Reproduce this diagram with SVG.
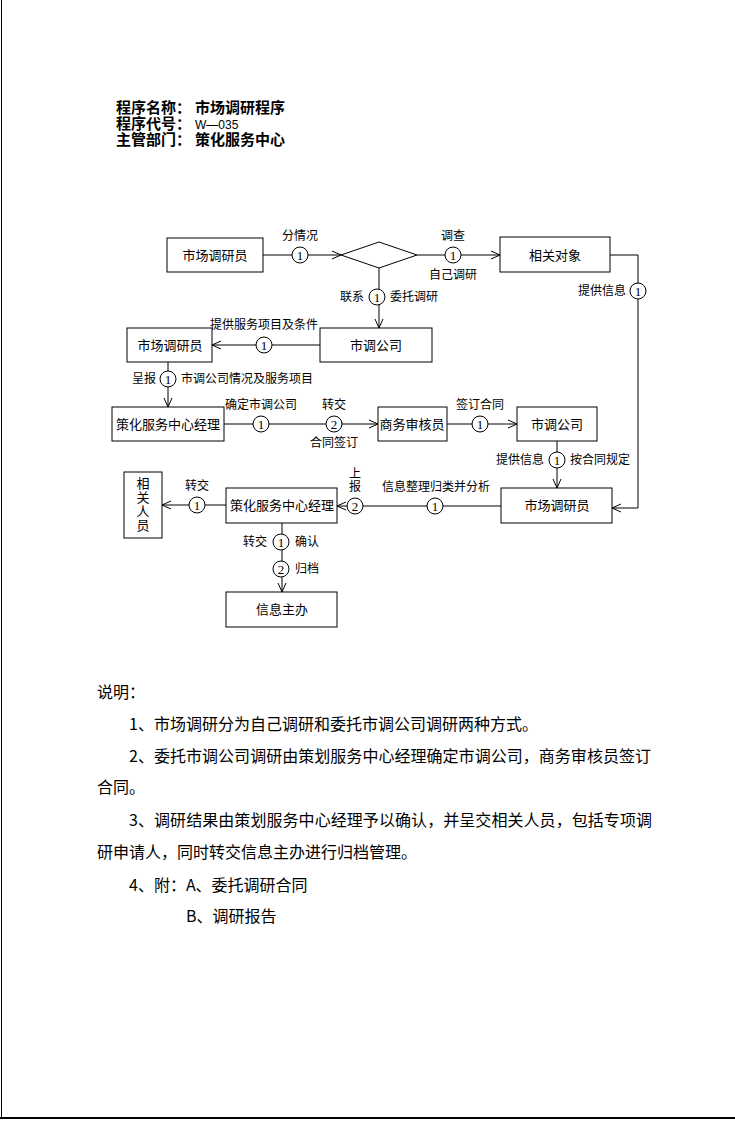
<svg xmlns="http://www.w3.org/2000/svg" width="735" height="1121" viewBox="0 0 735 1121">
<style>
.bx{fill:#fff;stroke:#000;stroke-width:1}
.ln{fill:none;stroke:#000;stroke-width:1}
.cc{fill:#fff;stroke:#000;stroke-width:1}
.bt{font-family:"Noto Sans CJK SC","Noto Sans CJK JP",sans-serif;font-size:13px;text-anchor:middle;fill:#000}
.lb{font-family:"Noto Sans CJK SC","Noto Sans CJK JP",sans-serif;font-size:12px;fill:#000}
.mid{text-anchor:middle}
.end{text-anchor:end}
.vt{writing-mode:vertical-rl;text-anchor:middle}
.num{font-family:"Liberation Serif",serif;font-size:13px;text-anchor:middle;fill:#000}
.hd{font-family:"Noto Sans CJK SC","Noto Sans CJK JP",sans-serif;font-size:15px;font-weight:bold;fill:#000}
.body{font-family:"Noto Sans CJK SC","Noto Sans CJK JP",sans-serif;font-size:16px;fill:#000}
</style>
<defs>
<marker id="ar" markerWidth="10" markerHeight="10" refX="9" refY="5" orient="auto" markerUnits="userSpaceOnUse">
<path d="M0,1 L9,5 L0,9" fill="none" stroke="#000" stroke-width="1"/>
</marker>
</defs>
<rect width="735" height="1121" fill="#fff"/>
<g id="page-border">
<line x1="1.5" y1="0" x2="1.5" y2="1119" class="ln"/>
<line x1="0" y1="1118" x2="735" y2="1118" stroke="#000" stroke-width="2"/>
</g>
<g id="header">
<text class="hd"><tspan x="116" y="113">程序名称：</tspan><tspan x="195" y="113">市场调研程序</tspan><tspan x="116" y="129">程序代号：</tspan><tspan x="195" y="129" font-family="Liberation Sans,sans-serif" font-size="12" font-weight="normal">W—035</tspan><tspan x="116" y="145">主管部门：</tspan><tspan x="195" y="145">策化服务中心</tspan></text>
</g>
<g id="connectors">
<line x1="263" y1="255" x2="341" y2="255" class="ln" marker-end="url(#ar)"/>
<line x1="417" y1="255" x2="500" y2="255" class="ln" marker-end="url(#ar)"/>
<line x1="379" y1="268" x2="379" y2="328" class="ln" marker-end="url(#ar)"/>
<line x1="320" y1="345" x2="212" y2="345" class="ln" marker-end="url(#ar)"/>
<line x1="168" y1="362" x2="168" y2="407" class="ln" marker-end="url(#ar)"/>
<line x1="224" y1="424" x2="378" y2="424" class="ln" marker-end="url(#ar)"/>
<line x1="447" y1="424" x2="517" y2="424" class="ln" marker-end="url(#ar)"/>
<line x1="557" y1="441" x2="557" y2="488" class="ln" marker-end="url(#ar)"/>
<polyline points="610,255 638,255 638,508 612,508" class="ln" marker-end="url(#ar)"/>
<line x1="501" y1="506" x2="337" y2="506" class="ln" marker-end="url(#ar)"/>
<line x1="226" y1="505" x2="162" y2="505" class="ln" marker-end="url(#ar)"/>
<line x1="282" y1="523" x2="282" y2="592" class="ln" marker-end="url(#ar)"/>
<g id="circles">
<circle cx="300" cy="255" r="8" class="cc"/><text x="300" y="260" class="num">1</text>
<circle cx="453" cy="255" r="8" class="cc"/><text x="453" y="260" class="num">1</text>
<circle cx="377" cy="297" r="8" class="cc"/><text x="377" y="302" class="num">1</text>
<circle cx="638" cy="291" r="8" class="cc"/><text x="638" y="296" class="num">1</text>
<circle cx="264" cy="345" r="8" class="cc"/><text x="264" y="350" class="num">1</text>
<circle cx="168" cy="379" r="8" class="cc"/><text x="168" y="384" class="num">1</text>
<circle cx="261" cy="424" r="8" class="cc"/><text x="261" y="429" class="num">1</text>
<circle cx="334" cy="424" r="8" class="cc"/><text x="334" y="429" class="num">2</text>
<circle cx="480" cy="424" r="8" class="cc"/><text x="480" y="429" class="num">1</text>
<circle cx="557" cy="460" r="8" class="cc"/><text x="557" y="465" class="num">1</text>
<circle cx="435" cy="506" r="8" class="cc"/><text x="435" y="511" class="num">1</text>
<circle cx="355" cy="506" r="8" class="cc"/><text x="355" y="511" class="num">2</text>
<circle cx="197" cy="505" r="8" class="cc"/><text x="197" y="510" class="num">1</text>
<circle cx="281" cy="542" r="8" class="cc"/><text x="281" y="547" class="num">1</text>
<circle cx="281" cy="569" r="8" class="cc"/><text x="281" y="574" class="num">2</text>
</g>
<g id="labels">
<text x="300" y="240" class="lb mid">分情况</text>
<text x="453" y="240" class="lb mid">调查</text>
<text x="453" y="279" class="lb mid">自己调研</text>
<text x="364" y="301" class="lb end">联系</text>
<text x="390" y="301" class="lb">委托调研</text>
<text x="626" y="295" class="lb end">提供信息</text>
<text x="264" y="329" class="lb mid">提供服务项目及条件</text>
<text x="156" y="383" class="lb end">呈报</text>
<text x="181" y="383" class="lb">市调公司情况及服务项目</text>
<text x="261" y="409" class="lb mid">确定市调公司</text>
<text x="334" y="409" class="lb mid">转交</text>
<text x="334" y="447" class="lb mid">合同签订</text>
<text x="480" y="409" class="lb mid">签订合同</text>
<text x="544" y="464" class="lb end">提供信息</text>
<text x="570" y="464" class="lb">按合同规定</text>
<text x="436" y="491" class="lb mid">信息整理归类并分析</text>
<text x="355" y="480" class="lb vt" letter-spacing="1">上报</text>
<text x="197" y="490" class="lb mid">转交</text>
<text x="267" y="546" class="lb end">转交</text>
<text x="295" y="546" class="lb">确认</text>
<text x="295" y="573" class="lb">归档</text>
</g>
</g>
<g id="n-researcher1"><rect x="167" y="238" width="96" height="34" class="bx"/><text x="215" y="260" class="bt">市场调研员</text></g>
<g id="n-decision"><polygon points="341,255 379,242 417,255 379,268" class="bx"/></g>
<g id="n-target"><rect x="500" y="237" width="110" height="35" class="bx"/><text x="555" y="260" class="bt">相关对象</text></g>
<g id="n-company1"><rect x="320" y="328" width="112" height="34" class="bx"/><text x="376" y="350" class="bt">市调公司</text></g>
<g id="n-researcher2"><rect x="127" y="328" width="85" height="34" class="bx"/><text x="170" y="350" class="bt">市场调研员</text></g>
<g id="n-manager1"><rect x="112" y="407" width="112" height="34" class="bx"/><text x="168" y="429" class="bt">策化服务中心经理</text></g>
<g id="n-auditor"><rect x="378" y="407" width="69" height="34" class="bx"/><text x="412" y="429" class="bt">商务审核员</text></g>
<g id="n-company2"><rect x="517" y="407" width="80" height="34" class="bx"/><text x="557" y="429" class="bt">市调公司</text></g>
<g id="n-researcher3"><rect x="501" y="488" width="111" height="35" class="bx"/><text x="557" y="510" class="bt">市场调研员</text></g>
<g id="n-manager2"><rect x="226" y="488" width="111" height="35" class="bx"/><text x="282" y="510" class="bt">策化服务中心经理</text></g>
<g id="n-related"><rect x="124" y="472" width="38" height="66" class="bx"/>
<text x="143" y="505" class="bt vt" letter-spacing="1">相关人员</text></g>
<g id="n-info"><rect x="226" y="592" width="111" height="35" class="bx"/><text x="282" y="614" class="bt">信息主办</text></g>
<g id="notes">
<text x="97" y="698" class="body">说明：</text>
<text x="129" y="730" class="body">1、市场调研分为自己调研和委托市调公司调研两种方式。</text>
<text x="129" y="762" class="body" textLength="522" lengthAdjust="spacing">2、委托市调公司调研由策划服务中心经理确定市调公司，商务审核员签订</text>
<text x="97" y="793" class="body">合同。</text>
<text x="129" y="826" class="body" textLength="523" lengthAdjust="spacing">3、调研结果由策划服务中心经理予以确认，并呈交相关人员，包括专项调</text>
<text x="97" y="858" class="body">研申请人，同时转交信息主办进行归档管理。</text>
<text x="129" y="891" class="body">4、附：A、委托调研合同</text>
<text x="186" y="922" class="body">B、调研报告</text>
</g>
</svg>
